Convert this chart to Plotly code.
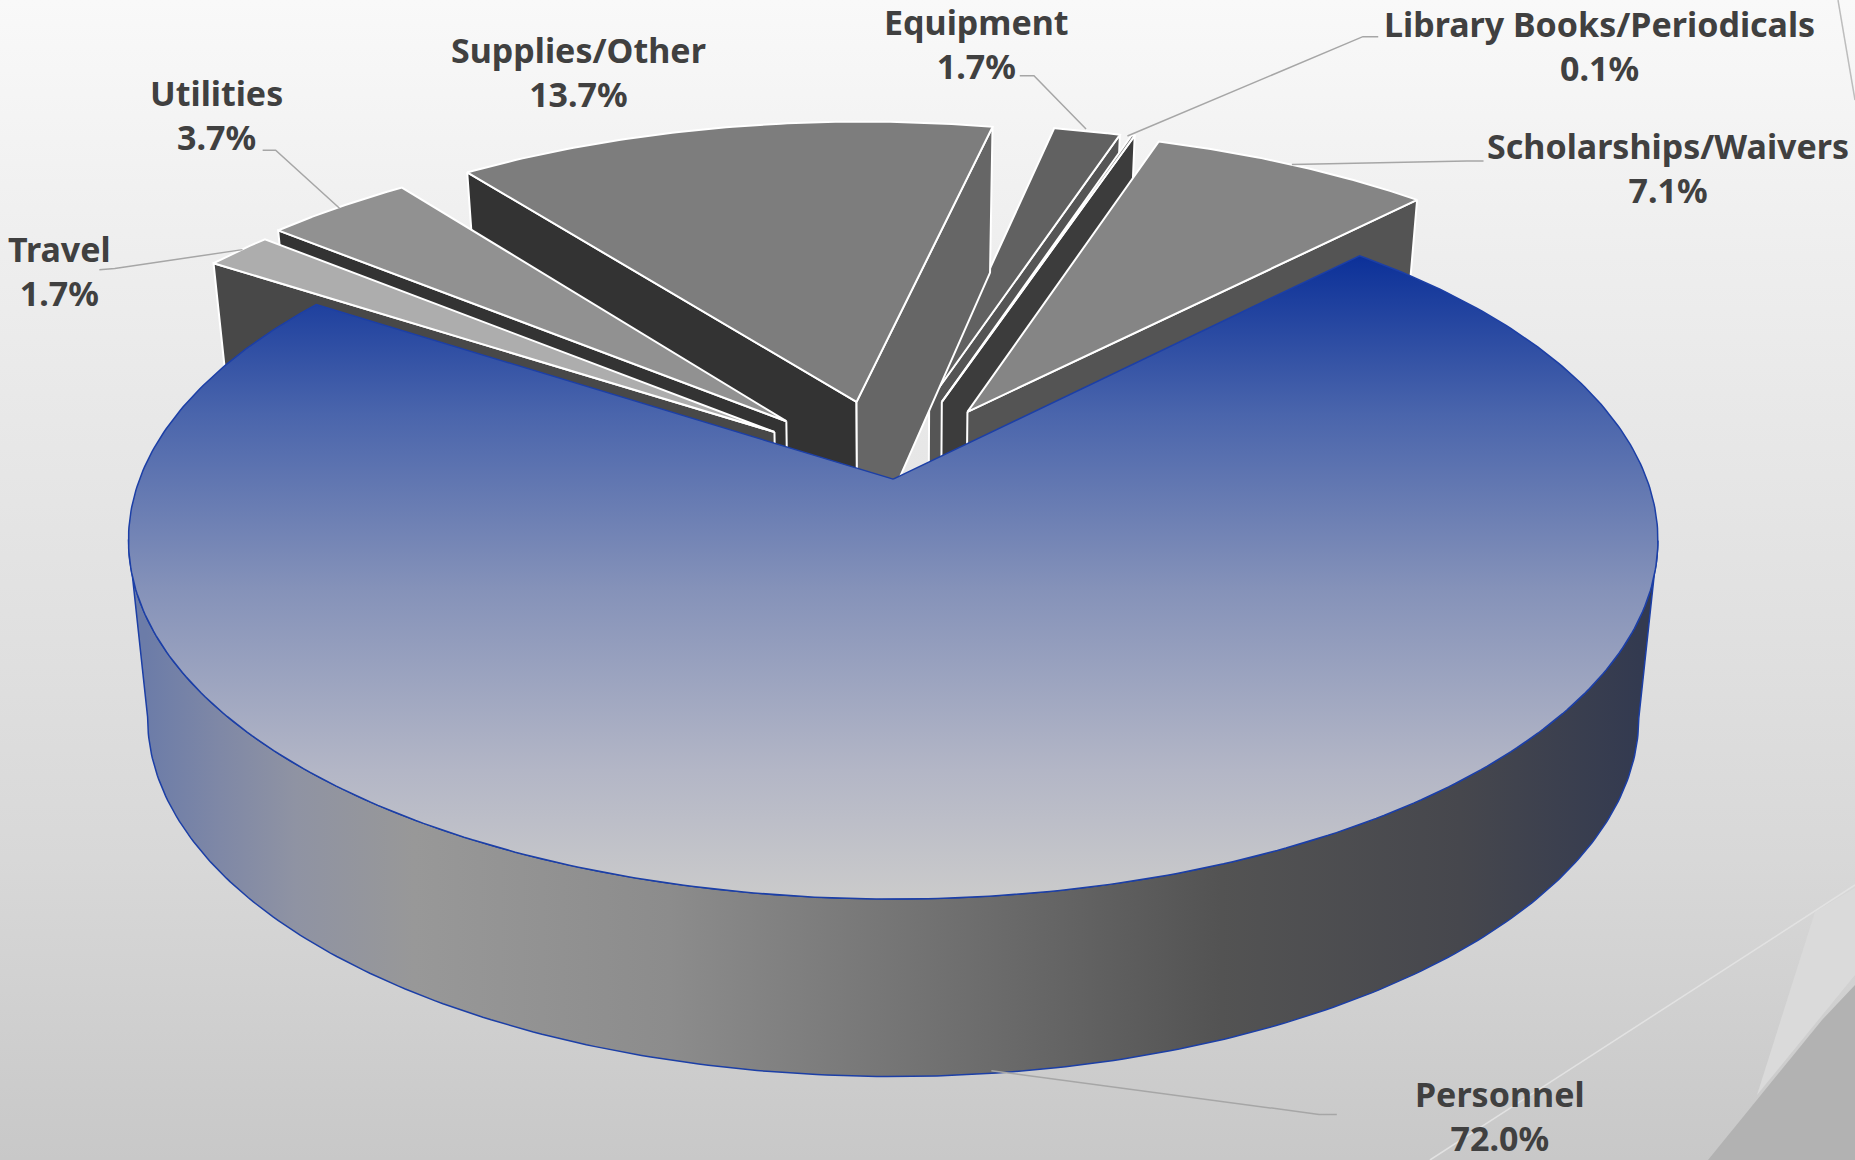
import numpy as np
import plotly.graph_objects as go

# ---- data ----
categories = ["Personnel", "Travel", "Utilities", "Supplies/Other", "Equipment",
              "Library Books/Periodicals", "Scholarships/Waivers"]
values = [72.0, 1.7, 3.7, 13.7, 1.7, 0.1, 7.1]

# ---- style per slice ----
top_colors = [None, "#adadad", "#919191", "#7d7d7d", "#616161", "#6a6a6a", "#858585"]
ccw_wall = [None, "#484848", "#333333", "#333333", "#555555", "#555555", "#555555"]
cw_wall = [None, "#484848", "#333333", "#666666", "#555555", "#3c3c3c", "#545454"]
explode = [0, 0.20, 0.21, 0.23, 0.23, 0.23, 0.21]
radius = [1, 1.012, 1.012, 1.012, 1.005, 1.005, 1.012]
nudge_x = [0, 0, 0, 0, -0.010, -0.005, -0.007]
nudge_y = [0, 0.020, 0.020, 0.006, 0.010, 0.012, 0.020]
draw_order = [4, 5, 6, 3, 2, 1]

label_xy = {"Personnel": (1268, 943), "Travel": (50, 229), "Utilities": (183, 97),
            "Supplies/Other": (489, 61), "Equipment": (825, 37),
            "Library Books/Periodicals": (1352, 39), "Scholarships/Waivers": (1410, 142)}
leaders = [[(862, 64), (874, 64), (918, 109)],
           [(1165, 31), (1152, 31), (953, 115)],
           [(1254, 136), (1240, 136), (1092, 139)],
           [(222, 127), (233, 127), (287, 176)],
           [(84, 228), (97, 227), (205, 211)],
           [(1130, 942), (1115, 942), (838, 905)]]

# ---- projection (values in the 1568-wide frame, scaled up) ----
SC = 1855 / 1568
CX, A, B, YH, P = 755, 637, 1733, -1328, 0.17
START = 44.0


def project(X, Y, bottom=False):
    X, Y = np.asarray(X, float), np.asarray(Y, float)
    s = 1 / (1 + P * Y)
    xs = A * X * s
    ys = YH + B * s
    if bottom:
        xs = xs * 0.975
        ys = ys + 150 - 22 * np.maximum(Y, 0)
    return (CX + xs) * SC, ys * SC


def poly(fig, x, y, color=None, line="#ffffff", lw=2, grad=None):
    t = dict(x=np.r_[x, x[0]], y=np.r_[y, y[0]], mode="lines", fill="toself",
             line=dict(color=line, width=lw), hoverinfo="skip", showlegend=False)
    if grad:
        t["fillgradient"] = grad
    else:
        t["fillcolor"] = color
    fig.add_trace(go.Scatter(**t))


fig = go.Figure()

# background
poly(fig, np.array([0, 1855, 1855, 0]), np.array([0, 0, 1160, 1160]), line="rgba(0,0,0,0)", lw=0,
     grad=dict(type="vertical", start=0, stop=1160,
               colorscale=[[0, "#f9f9f9"], [0.22, "#eeeeee"], [0.74, "#d8d8d8"], [1, "#c8c8c8"]]))
# decorative corner shapes
poly(fig, np.array([1855, 1815, 1757, 1855]), np.array([888, 912, 1095, 975]), "#dadada", "rgba(0,0,0,0)", 0)
poly(fig, np.array([1855, 1822, 1708, 1855]), np.array([985, 1020, 1160, 1160]), "#b2b2b2", "rgba(0,0,0,0)", 0)
fig.add_trace(go.Scatter(x=[1855, 1430], y=[885, 1160], mode="lines", hoverinfo="skip", showlegend=False,
                         line=dict(color="#e2e2e2", width=1.5)))
fig.add_trace(go.Scatter(x=[1838, 1855], y=[0, 100], mode="lines", hoverinfo="skip", showlegend=False,
                         line=dict(color="#bdbdbd", width=1.5)))

# slice angles
widths = np.array(values) / sum(values) * 360
starts = START + np.r_[0, np.cumsum(widths)[:-1]]
ends = starts + widths


def slice_geom(i, n=80):
    th = np.radians(np.linspace(starts[i], ends[i], n))
    mid = np.radians((starts[i] + ends[i]) / 2)
    ax = explode[i] * np.sin(mid) + nudge_x[i]
    ay = explode[i] * np.cos(mid) + nudge_y[i]
    return ax, ay, ax + radius[i] * np.sin(th), ay + radius[i] * np.cos(th)


for i in draw_order:
    ax, ay, X, Y = slice_geom(i)
    a, b = np.radians(starts[i]), np.radians(ends[i])
    if np.sin(a) < 0:
        xt, yt = project([ax, X[0]], [ay, Y[0]])
        xb, yb = project([X[0], ax], [Y[0], ay], True)
        poly(fig, np.r_[xt, xb], np.r_[yt, yb], ccw_wall[i])
    if np.sin(b) > 0:
        xt, yt = project([ax, X[-1]], [ay, Y[-1]])
        xb, yb = project([X[-1], ax], [Y[-1], ay], True)
        poly(fig, np.r_[xt, xb], np.r_[yt, yb], cw_wall[i])
    xt, yt = project(np.r_[ax, X], np.r_[ay, Y])
    poly(fig, xt, yt, top_colors[i])

# main slice: rim between the silhouette points, then top
ax, ay, X, Y = slice_geom(0, 400)
xt, yt = project(X, Y)
xb, yb = project(X, Y, True)
t0, t1 = np.argmax(xt), np.argmin(xt)
b0, b1 = np.argmax(xb), np.argmin(xb)
poly(fig, np.r_[xt[t0:t1 + 1], xb[b0:b1 + 1][::-1]], np.r_[yt[t0:t1 + 1], yb[b0:b1 + 1][::-1]],
     line="#1c3fa6", lw=1.5,
     grad=dict(type="horizontal", start=146, stop=1640,
               colorscale=[[0, "#6c7ca8"], [0.05, "#7f88a6"], [0.1, "#8f93a3"], [0.18, "#989898"], [0.35, "#8c8c8c"],
                           [0.55, "#6e6e6e"], [0.72, "#535353"], [0.88, "#46474d"], [1, "#333a50"]]))
xt2, yt2 = project(np.r_[ax, X], np.r_[ay, Y])
poly(fig, xt2, yt2, line="#1c3fa6", lw=1.5,
     grad=dict(type="vertical", start=252, stop=900,
               colorscale=[[0, "#0a2f98"], [0.25, "#4a65ac"], [0.52, "#8592b9"], [0.8, "#b3b6c6"], [1, "#cbcbcb"]]))

# leader lines
for pts in leaders:
    fig.add_trace(go.Scatter(x=[p[0] * SC for p in pts], y=[p[1] * SC for p in pts], mode="lines",
                             hoverinfo="skip", showlegend=False, line=dict(color="#a6a6a6", width=1.5)))

# labels
for c, v in zip(categories, values):
    lx, ly = label_xy[c]
    fig.add_annotation(x=lx * SC, y=ly * SC, text=f"{c}<br>{v:.1f}%", showarrow=False,
                       xanchor="center", yanchor="middle", align="center",
                       font=dict(family="Noto Sans", size=34, color="#404040", weight="bold"))

fig.update_xaxes(range=[0, 1855], visible=False, fixedrange=True)
fig.update_yaxes(range=[1160, 0], visible=False, fixedrange=True)
fig.update_layout(width=1855, height=1160, margin=dict(l=0, r=0, t=0, b=0),
                  paper_bgcolor="#eeeeee", plot_bgcolor="rgba(0,0,0,0)")
fig.write_html("out.html", config={"displayModeBar": False},
               post_script="document.body.style.margin='0';")
